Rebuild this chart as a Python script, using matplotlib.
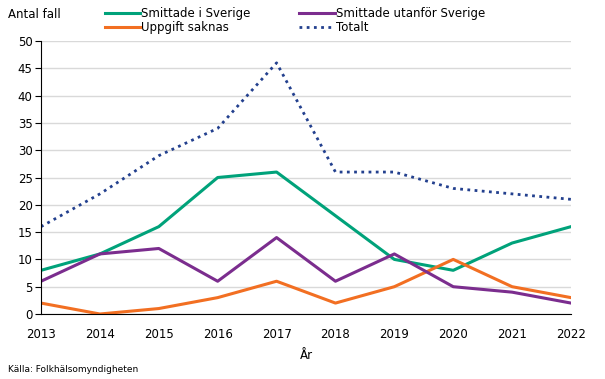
import matplotlib.pyplot as plt
import matplotlib.ticker as ticker

years = [2013, 2014, 2015, 2016, 2017, 2018, 2019, 2020, 2021, 2022]
smittade_sverige = [8, 11, 16, 25, 26, 18, 10, 8, 13, 16]
smittade_utanfor = [6, 11, 12, 6, 14, 6, 11, 5, 4, 2]
uppgift_saknas = [2, 0, 1, 3, 6, 2, 5, 10, 5, 3]
totalt = [16, 22, 29, 34, 46, 26, 26, 23, 22, 21]

green = '#00A27A'
purple = '#7B2D8E'
orange = '#F26F22'
blue = '#23408E'

fs = 8.5

fig = plt.figure(figsize=(6.05, 3.79), dpi=100)
ax = fig.add_axes([0.0678, 0.1715, 0.876, 0.7203])

l1, = ax.plot(years, smittade_sverige, color=green, linewidth=2.2, label='Smittade i Sverige')
l3, = ax.plot(years, uppgift_saknas, color=orange, linewidth=2.2, label='Uppgift saknas')
l2, = ax.plot(years, smittade_utanfor, color=purple, linewidth=2.2, label='Smittade utanför Sverige')
l4, = ax.plot(years, totalt, color=blue, linewidth=2.0, linestyle=(0, (1, 1.6)), label='Totalt')

ax.set_xlim(2013, 2022)
ax.set_ylim(0, 50)
ax.yaxis.set_major_locator(ticker.MultipleLocator(5))
ax.xaxis.set_major_locator(ticker.MultipleLocator(1))
ax.grid(True, axis='y', color='#d9d9d9', linewidth=1)
ax.set_axisbelow(True)
for s in ['top', 'right']:
    ax.spines[s].set_visible(False)
ax.spines['left'].set_color('black')
ax.spines['bottom'].set_color('black')
ax.tick_params(axis='y', length=4, labelsize=fs, pad=2)
ax.tick_params(axis='x', length=0, labelsize=fs, pad=10)
ax.set_xlabel('År', fontsize=fs, labelpad=6)

fig.text(8 / 605, 1 - 15 / 379, 'Antal fall', fontsize=fs, va='center', ha='left')
fig.text(8 / 605, 1 - 370 / 379, 'Källa: Folkhälsomyndigheten', fontsize=6.5, va='center', ha='left')

fig.legend(handles=[l1, l3, l2, l4], ncol=2, frameon=False, fontsize=fs,
           loc='upper left', bbox_to_anchor=(100 / 605, 1 - 2 / 379), handlelength=3.0,
           handletextpad=0.1, columnspacing=4.1, labelspacing=0.15, borderaxespad=0)

plt.savefig('out.png', dpi=100)
